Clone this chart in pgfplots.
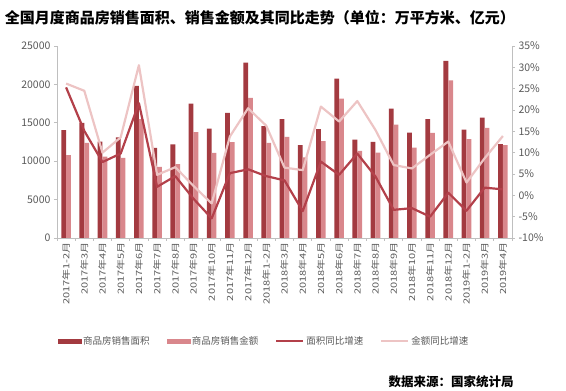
\documentclass[border=0pt]{standalone}
\usepackage{pgfplots}
\pgfplotsset{compat=1.18}
\usepackage{fontspec}
\setmainfont{Noto Sans CJK SC}
\definecolor{barA}{HTML}{A33A40}
\definecolor{barB}{HTML}{D9878C}
\definecolor{lineA}{HTML}{B3404A}
\definecolor{lineB}{HTML}{EDC4C4}
\definecolor{axgray}{HTML}{BFBFBF}
\definecolor{txtgray}{HTML}{595959}
\newcommand{\LB}[1]{\scalebox{1.3}[1]{#1}}

\pgfplotstableread{
x area amount areayoy amountyoy
0 14040 10790 25.3 26.2
1 14990 12390 15.1 24.5
2 12560 10600 7.8 10.0
3 13090 10420 9.8 13.6
4 19800 15480 21.6 30.5
5 11740 9270 2.0 4.8
6 12180 9630 4.5 6.6
7 17500 13790 -0.8 2.2
8 14250 11090 -5.4 -1.9
9 16290 12480 5.2 13.8
10 22830 18240 6.1 20.4
11 14560 12390 4.5 16.3
12 15470 13170 3.5 6.5
13 12090 10500 -3.7 5.9
14 14170 12600 7.9 20.8
15 20750 18150 4.8 17.3
16 12820 11350 9.8 22.1
17 12520 11130 4.4 15.3
18 16850 14770 -3.4 7.1
19 13730 11780 -3.0 6.3
20 15470 13690 -5.0 9.5
21 23050 20540 0.6 12.6
22 14120 12870 -3.6 3.0
23 15680 14340 1.8 8.7
24 12220 12090 1.4 13.9
}\data

\begin{document}
\begin{tikzpicture}
\path[use as bounding box] (0,0) rectangle (566pt,391pt);
\begin{axis}[
  at={(57pt,153pt)}, anchor=south west,
  width=455pt, height=192pt, scale only axis,
  xmin=-0.5, xmax=24.5, ymin=0, ymax=25000,
  ybar=0pt, bar width=4.8pt,
  axis x line*=bottom, axis y line*=left,
  axis line style={axgray, line width=0.8pt},
  tick align=outside,
  tick style={axgray, line width=0.8pt},
  xtick={0,...,24},
  major x tick style={draw=none},
  minor xtick={-0.5,0.5,...,24.5},
  minor tick length=3pt, major tick length=3pt,
  xticklabels={\LB{2017年1-2月},\LB{2017年3月},\LB{2017年4月},\LB{2017年5月},\LB{2017年6月},\LB{2017年7月},\LB{2017年8月},\LB{2017年9月},\LB{2017年10月},\LB{2017年11月},\LB{2017年12月},\LB{2018年1-2月},\LB{2018年3月},\LB{2018年4月},\LB{2018年5月},\LB{2018年6月},\LB{2018年7月},\LB{2018年8月},\LB{2018年9月},\LB{2018年10月},\LB{2018年11月},\LB{2018年12月},\LB{2019年1-2月},\LB{2019年3月},\LB{2019年4月}},
  xticklabel style={rotate=90, anchor=east, font=\fontsize{8.5}{8.5}\selectfont, text=txtgray, inner sep=1pt},
  ytick={0,5000,...,25000},
  scaled y ticks=false,
  /pgf/number format/1000 sep={},
  /pgf/number format/assume math mode=true,
  yticklabel style={font=\fontsize{10.5}{10.5}\selectfont, text=txtgray},
]
\addplot[fill=barA, draw=none] table[x=x, y=area] {\data};
\addplot[fill=barB, draw=none] table[x=x, y=amount] {\data};
\end{axis}
\begin{axis}[
  at={(57pt,153pt)}, anchor=south west,
  width=455pt, height=192pt, scale only axis,
  xmin=-0.5, xmax=24.5, ymin=-10, ymax=35,
  axis x line=none, axis y line*=right,
  axis line style={axgray, line width=0.8pt},
  tick align=outside,
  tick style={axgray, line width=0.8pt},
  major tick length=3pt,
  ytick={-10,-5,...,35},
  yticklabel={\pgfmathprintnumber{\tick}\%},
  /pgf/number format/assume math mode=true,
  yticklabel style={font=\fontsize{10.5}{10.5}\selectfont, text=txtgray},
  legend columns=4,
  legend style={draw=none, fill=none, at={(axis description cs:0.455,-0.536)}, anchor=center,
    font=\fontsize{9.5}{9.5}\selectfont, text=txtgray,
    /tikz/every even column/.append style={column sep=15pt}},
  legend cell align=left,
]
\addlegendimage{legend image code/.code={\fill[barA] (0pt,-2pt) rectangle (23pt,2pt);}}
\addlegendentry{商品房销售面积}
\addlegendimage{legend image code/.code={\fill[barB] (0pt,-2pt) rectangle (23pt,2pt);}}
\addlegendentry{商品房销售金额}
\addplot[lineA, line width=2.2pt, line join=round, legend image code/.code={\draw[lineA, line width=2pt] (0pt,0pt) -- (27pt,0pt);}] table[x=x, y=areayoy] {\data};
\addlegendentry{面积同比增速}
\addplot[lineB, line width=2.2pt, line join=round, legend image code/.code={\draw[lineB, line width=2pt] (0pt,0pt) -- (27pt,0pt);}] table[x=x, y=amountyoy] {\data};
\addlegendentry{金额同比增速}
\end{axis}
\node[font=\bfseries\fontsize{15}{15}\selectfont, inner sep=0pt] at (260pt,373pt) {全国月度商品房销售面积、销售金额及其同比走势（单位：万平方米、亿元）};
\node[font=\bfseries\fontsize{12.5}{12.5}\selectfont, inner sep=0pt] at (451pt,9.5pt) {数据来源：国家统计局};
\end{tikzpicture}
\end{document}
